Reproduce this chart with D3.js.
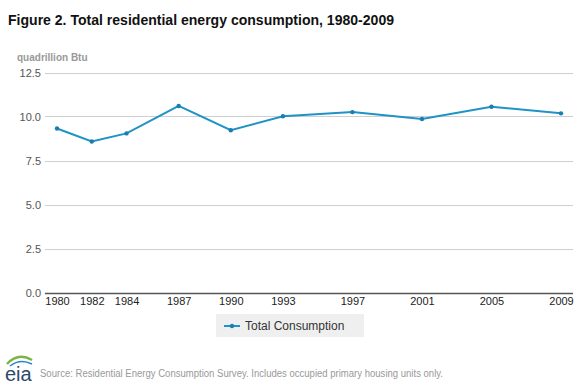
<!DOCTYPE html>
<html>
<head>
<meta charset="utf-8">
<script src="https://cdn.jsdelivr.net/npm/d3@7"></script>
<style>
  body { margin: 0; background: #fff; }
  text { font-family: "Liberation Sans", Arial, sans-serif; }
</style>
</head>
<body>
<div id="chart"></div>
<script>
// data
var years = [1980, 1982, 1984, 1987, 1990, 1993, 1997, 2001, 2005, 2009];
var consumption = [9.32, 8.58, 9.04, 10.6, 9.22, 10.01, 10.25, 9.86, 10.55, 10.18];
var yTicks = [0, 2.5, 5, 7.5, 10, 12.5];
var seriesName = "Total Consumption";
var titleText = "Figure 2. Total residential energy consumption, 1980-2009";
var unitText = "quadrillion Btu";
var sourceText = "Source: Residential Energy Consumption Survey. Includes occupied primary housing units only.";

var width = 580, height = 386;
var lineColor = "#1f93c6";

var svg = d3.select("#chart")
  .append("svg")
  .attr("width", width)
  .attr("height", height);

// 标题
svg.append("text")
  .attr("x", 8)
  .attr("y", 25)
  .attr("font-size", "15.5px")
  .attr("font-weight", "bold")
  .attr("fill", "#111")
  .attr("textLength", 386)
  .attr("lengthAdjust", "spacingAndGlyphs")
  .text(titleText);

svg.append("text")
  .attr("x", 17)
  .attr("y", 61)
  .attr("font-size", "10px")
  .attr("font-weight", "bold")
  .attr("fill", "#999")
  .text(unitText);

// scales
var x = d3.scaleLinear().domain([1980, 2009]).range([57, 561]);
var y = d3.scaleLinear().domain([0, 12.5]).range([292.5, 72.5]);

// grid
var gGrid = svg.append("g");
gGrid.selectAll("line")
  .data(yTicks.filter(function(d) { return d > 0; }))
  .enter()
  .append("line")
  .attr("x1", 45)
  .attr("x2", 573)
  .attr("y1", function(d) { return Math.round(y(d)) + 0.5; })
  .attr("y2", function(d) { return Math.round(y(d)) + 0.5; })
  .attr("stroke", "#cfcfcf")
  .attr("stroke-width", 1);

// y axis labels
var yAxis = d3.axisLeft(y).tickValues(yTicks).tickSize(0).tickPadding(0)
  .tickFormat(d3.format(".1f"));
var gy = svg.append("g").attr("transform", "translate(41,0)").call(yAxis);
gy.select(".domain").remove();
gy.selectAll("text")
  .attr("font-size", "11px")
  .attr("font-family", "Liberation Sans, Arial, sans-serif")
  .attr("fill", "#555");

// x axis
var xAxis = d3.axisBottom(x).tickValues(years).tickSize(0).tickPadding(4)
  .tickFormat(d3.format("d"));
var gx = svg.append("g").attr("transform", "translate(0," + (Math.round(y(0)) + 0.5) + ")").call(xAxis);
gx.select(".domain").remove();
gx.append("line")
  .attr("x1", 45)
  .attr("x2", 573)
  .attr("stroke", "#555")
  .attr("stroke-width", 1.5);
gx.selectAll("text")
  .attr("font-size", "11px")
  .attr("font-family", "Liberation Sans, Arial, sans-serif")
  .attr("fill", "#222");

// 线
var line = d3.line()
  .x(function(d, i) { return x(years[i]); })
  .y(function(d) { return y(d); });

svg.append("path")
  .datum(consumption)
  .attr("d", line)
  .attr("fill", "none")
  .attr("stroke", lineColor)
  .attr("stroke-width", 2);

svg.append("g").selectAll("circle")
  .data(consumption)
  .enter()
  .append("circle")
  .attr("cx", function(d, i) { return x(years[i]); })
  .attr("cy", function(d) { return y(d); })
  .attr("r", 2.2)
  .attr("fill", "#1a7fb0");

// legend
var gLegend = svg.append("g");
gLegend.append("rect")
  .attr("x", 216)
  .attr("y", 314)
  .attr("width", 148)
  .attr("height", 23)
  .attr("fill", "#efefef");
gLegend.append("line")
  .attr("x1", 224)
  .attr("x2", 240)
  .attr("y1", 326)
  .attr("y2", 326)
  .attr("stroke", lineColor)
  .attr("stroke-width", 2);
gLegend.append("circle")
  .attr("cx", 232)
  .attr("cy", 326)
  .attr("r", 2.2)
  .attr("fill", "#1a7fb0");
gLegend.append("text")
  .attr("x", 245)
  .attr("y", 330)
  .attr("font-size", "12px")
  .attr("fill", "#333")
  .text(seriesName);

// eia logo
var gLogo = svg.append("g");
gLogo.append("path")
  .attr("d", "M7,364 Q18,352 32,360")
  .attr("fill", "none")
  .attr("stroke", "#7cb342")
  .attr("stroke-width", 2.5);
gLogo.append("path")
  .attr("d", "M10,366 Q20,358 32,364")
  .attr("fill", "none")
  .attr("stroke", "#1e88c8")
  .attr("stroke-width", 1.5);
gLogo.append("text")
  .attr("x", 5)
  .attr("y", 381)
  .attr("font-family", "Liberation Serif, Times New Roman, serif")
  .attr("font-size", "20px")
  .attr("fill", "#2b4a6a")
  .text("eia");

svg.append("text")
  .attr("x", 40)
  .attr("y", 377)
  .attr("font-size", "10px")
  .attr("fill", "#999")
  .attr("textLength", 403)
  .attr("lengthAdjust", "spacingAndGlyphs")
  .text(sourceText);
</script>
</body>
</html>
